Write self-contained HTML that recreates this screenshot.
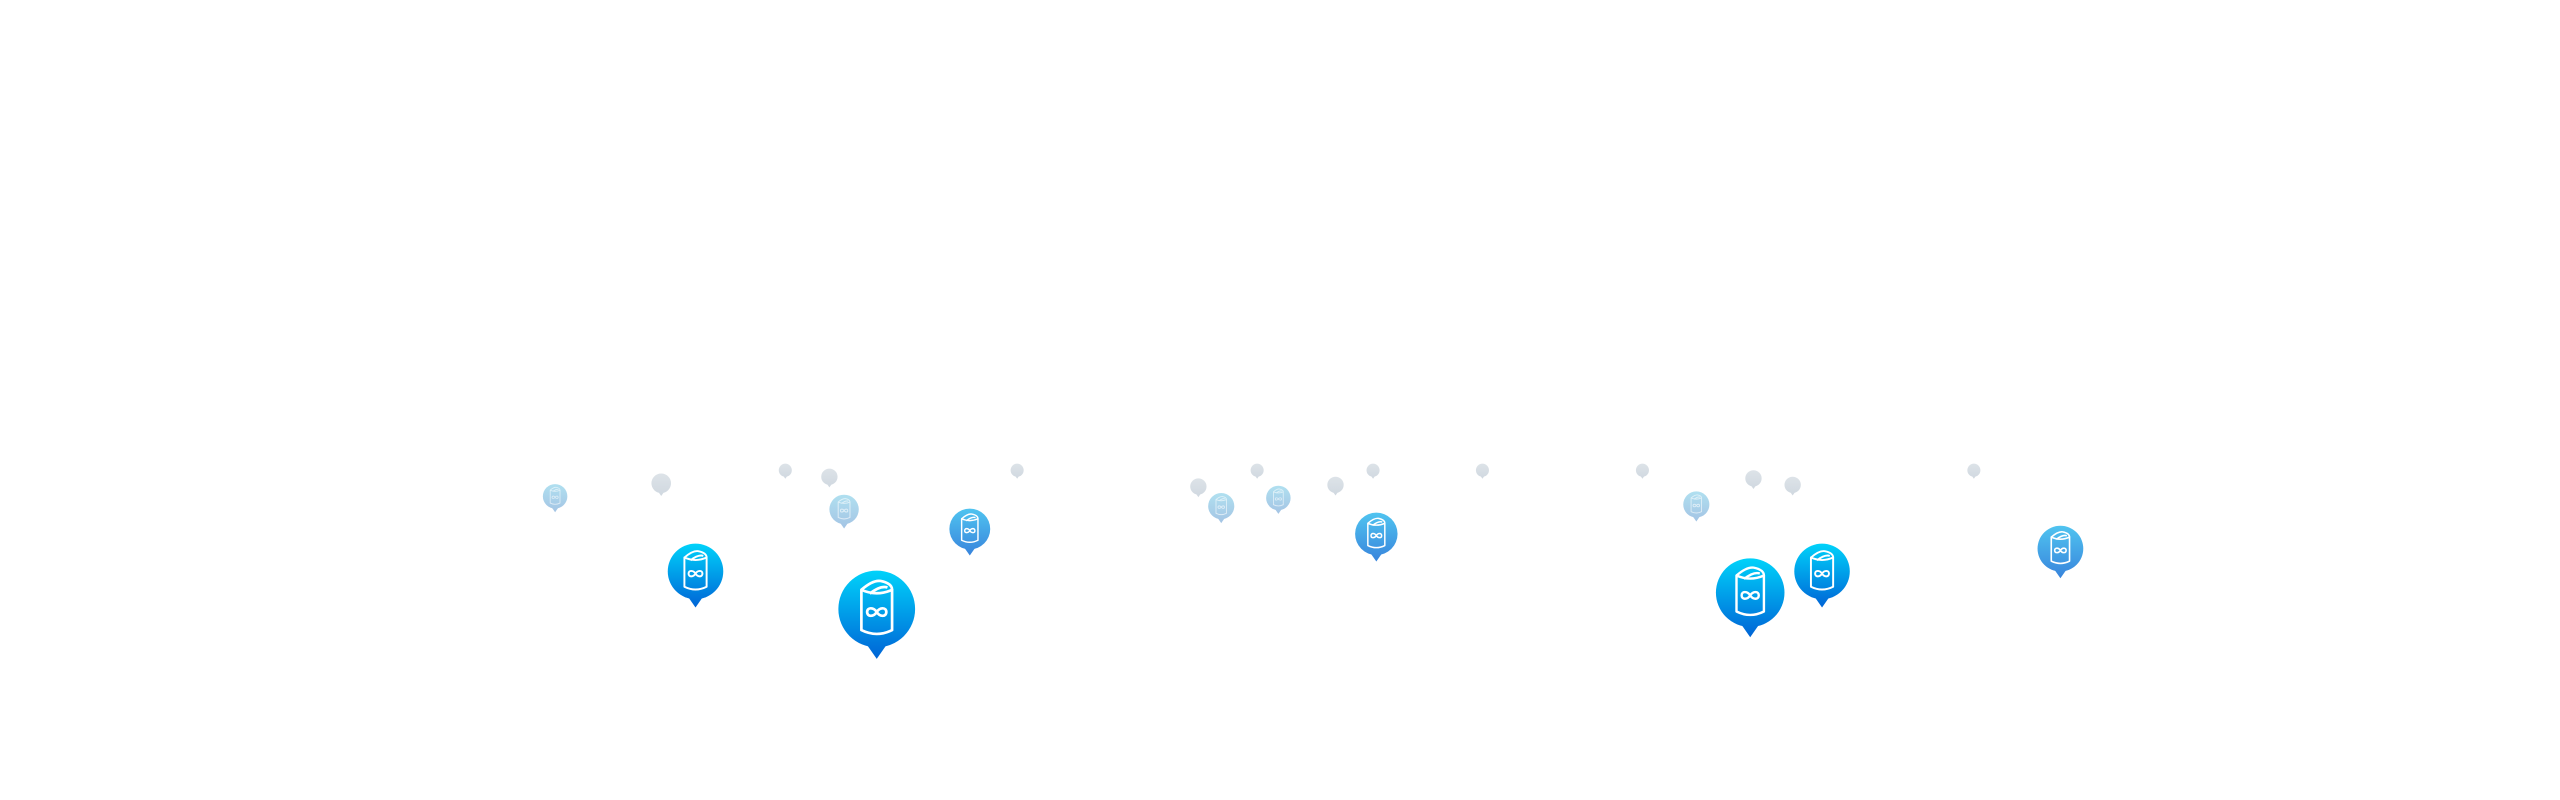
<!DOCTYPE html>
<html><head><meta charset="utf-8"><style>html,body{margin:0;padding:0;background:#fff;width:2560px;height:800px;overflow:hidden}svg{display:block}</style></head>
<body>
<svg width="2560" height="800" viewBox="0 0 1568 490" preserveAspectRatio="none" xmlns="http://www.w3.org/2000/svg">
<defs>
<linearGradient id="gF" gradientUnits="userSpaceOnUse" x1="0" y1="-1" x2="0" y2="1.3"><stop offset="0" stop-color="#00d2fa"/><stop offset="1" stop-color="#0064d6"/></linearGradient>
<linearGradient id="gM" gradientUnits="userSpaceOnUse" x1="0" y1="-1" x2="0" y2="1.3"><stop offset="0" stop-color="#50c4f0"/><stop offset="1" stop-color="#3884dc"/></linearGradient>
<linearGradient id="gL" gradientUnits="userSpaceOnUse" x1="0" y1="-1" x2="0" y2="1.3"><stop offset="0" stop-color="#b0e0f0"/><stop offset="1" stop-color="#a4c4e4"/></linearGradient>
<linearGradient id="gG" gradientUnits="userSpaceOnUse" x1="0" y1="-1" x2="0" y2="1.3"><stop offset="0" stop-color="#dde3e8"/><stop offset="1" stop-color="#d0d8e0"/></linearGradient>
<g id="body"><circle cx="0" cy="0" r="1"/><path d="M-0.28 0.9 L0.28 0.9 L0 1.3 Z"/></g>
<g id="icon" fill="none" stroke="#fff" stroke-width="0.07" stroke-linejoin="round">
<path d="M-0.4 -0.5 L-0.4 0.55 Q0 0.75 0.4 0.55 L0.4 -0.5 Q0 -0.32 -0.4 -0.5 Z"/>
<path d="M-0.4 -0.5 Q-0.1 -0.76 0.1 -0.73 Q0.4 -0.67 0.4 -0.5"/>
<path d="M-0.18 -0.4 Q0.1 -0.62 0.28 -0.56"/>
<path d="M0 0.08 C-0.08 -0.05 -0.25 -0.05 -0.25 0.08 C-0.25 0.21 -0.08 0.21 0 0.08 C0.08 -0.05 0.25 -0.05 0.25 0.08 C0.25 0.21 0.08 0.21 0 0.08 Z"/>
</g>
</defs>
<g fill="url(#gG)">
<g transform="translate(405,296) scale(6)"><use href="#body"/></g>
<g transform="translate(481,288) scale(4)"><use href="#body"/></g>
<g transform="translate(508,292) scale(5)"><use href="#body"/></g>
<g transform="translate(623,288) scale(4)"><use href="#body"/></g>
<g transform="translate(734,298) scale(5)"><use href="#body"/></g>
<g transform="translate(770,288) scale(4)"><use href="#body"/></g>
<g transform="translate(818,297) scale(5)"><use href="#body"/></g>
<g transform="translate(841,288) scale(4)"><use href="#body"/></g>
<g transform="translate(908,288) scale(4)"><use href="#body"/></g>
<g transform="translate(1006,288) scale(4)"><use href="#body"/></g>
<g transform="translate(1074,293) scale(5)"><use href="#body"/></g>
<g transform="translate(1098,297) scale(5)"><use href="#body"/></g>
<g transform="translate(1209,288) scale(4)"><use href="#body"/></g>
</g>
<g fill="url(#gL)">
<g transform="translate(340,304) scale(7.5)"><use href="#body"/><use href="#icon" opacity="0.6"/></g>
<g transform="translate(517,312) scale(9)"><use href="#body"/><use href="#icon" opacity="0.6"/></g>
<g transform="translate(748,310) scale(8)"><use href="#body"/><use href="#icon" opacity="0.6"/></g>
<g transform="translate(783,305) scale(7.5)"><use href="#body"/><use href="#icon" opacity="0.6"/></g>
<g transform="translate(1039,309) scale(8)"><use href="#body"/><use href="#icon" opacity="0.6"/></g>
</g>
<g fill="url(#gM)">
<g transform="translate(594,324) scale(12.5)"><use href="#body"/><use href="#icon"/></g>
<g transform="translate(843,327) scale(13)"><use href="#body"/><use href="#icon"/></g>
<g transform="translate(1262,336) scale(14)"><use href="#body"/><use href="#icon"/></g>
</g>
<g fill="url(#gF)">
<g transform="translate(426,350) scale(17)"><use href="#body"/><use href="#icon"/></g>
<g transform="translate(537,373) scale(23.5)"><use href="#body"/><use href="#icon"/></g>
<g transform="translate(1072,363) scale(21)"><use href="#body"/><use href="#icon"/></g>
<g transform="translate(1116,350) scale(17)"><use href="#body"/><use href="#icon"/></g>
</g>
</svg>
</body></html>
